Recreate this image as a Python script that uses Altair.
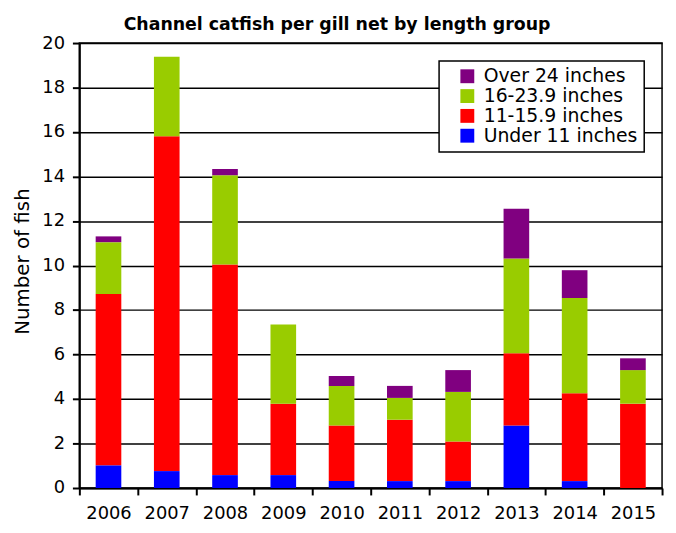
import altair as alt
import pandas as pd

years = ["2006", "2007", "2008", "2009", "2010", "2011", "2012", "2013", "2014", "2015"]
under11 = [1.02, 0.76, 0.58, 0.58, 0.31, 0.31, 0.31, 2.81, 0.31, 0.0]
g11_15 = [7.70, 15.05, 9.47, 3.21, 2.50, 2.76, 1.78, 3.25, 3.95, 3.79]
g16_23 = [2.33, 3.57, 4.01, 3.56, 1.78, 0.98, 2.23, 4.26, 4.28, 1.51]
over24 = [0.26, 0.0, 0.28, 0.0, 0.44, 0.54, 0.98, 2.23, 1.25, 0.53]

groups = ["Under 11 inches", "11-15.9 inches", "16-23.9 inches", "Over 24 inches"]
series = [under11, g11_15, g16_23, over24]
legend_order = ["Over 24 inches", "16-23.9 inches", "11-15.9 inches", "Under 11 inches"]
colors = ["#800080", "#99CC00", "#FF0000", "#0000FF"]

rows = []
for gi, (g, vals) in enumerate(zip(groups, series)):
    for y, v in zip(years, vals):
        rows.append({"year": y, "group": g, "value": v, "stackorder": gi})
df = pd.DataFrame(rows)

FONT = "DejaVu Sans"

chart = alt.Chart(df).mark_bar(width={"band": 0.44}).encode(
    x=alt.X("year:N", sort=years,
            scale=alt.Scale(paddingInner=0, paddingOuter=0),
            axis=alt.Axis(title=None, labelAngle=0, tickBand="extent", grid=False,
                          domainColor="black", domainWidth=2, tickColor="black",
                          tickWidth=2, tickSize=7, labelFontSize=18, labelPadding=10,
                          labelColor="black", labelFont=FONT)),
    y=alt.Y("value:Q", stack="zero",
            scale=alt.Scale(domain=[0, 20], nice=False),
            axis=alt.Axis(title="Number of fish", values=list(range(0, 21, 2)),
                          titleFontSize=20, titleFontWeight="normal", titleFont=FONT,
                          titleColor="black", titlePadding=9, titleY=220,
                          gridColor="black", gridWidth=1.5, gridOpacity=1,
                          domainColor="black", domainWidth=2, tickColor="black",
                          tickWidth=2, tickSize=7, labelFontSize=18, labelPadding=8,
                          labelColor="black", labelFont=FONT)),
    color=alt.Color("group:N",
                    scale=alt.Scale(domain=legend_order, range=colors),
                    legend=alt.Legend(title=None, orient="none", legendX=363, legendY=18,
                                      strokeColor="black", fillColor="white",
                                      padding=6, symbolType="square", symbolSize=196,
                                      symbolOffset=13, symbolStrokeWidth=0,
                                      labelFontSize=19, labelFont=FONT, labelColor="black",
                                      labelOffset=7, rowPadding=0)),
    order=alt.Order("stackorder:Q", sort="ascending"),
).properties(
    width=588,
    height=449,
    title=alt.Title("Channel catfish per gill net by length group",
                    fontSize=17.5, fontWeight="bold", font=FONT, color="black",
                    anchor="middle", frame="group", dx=-34, offset=1),
).configure_view(
    stroke="black", strokeWidth=1.5
).configure_legend(
    strokeWidth=1.5
)

chart.save("out.html", embed_options={"renderer": "svg", "actions": False})
